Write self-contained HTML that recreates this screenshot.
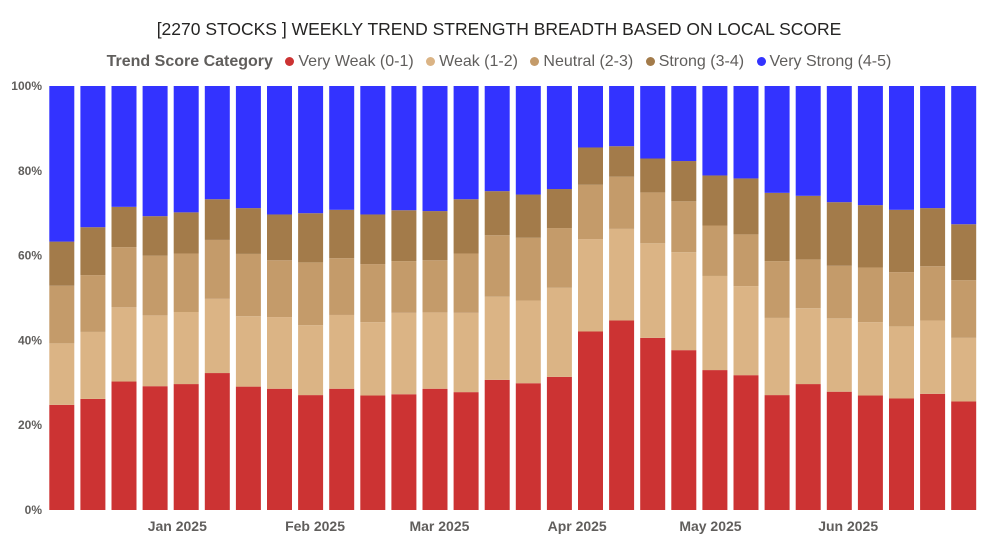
<!DOCTYPE html>
<html><head><meta charset="utf-8"><style>
html,body{margin:0;padding:0;background:#fff;width:998px;height:552px;overflow:hidden;font-family:"Liberation Sans",sans-serif}
#title{position:absolute;left:0;top:19px;width:998px;text-align:center;font-size:17.5px;color:#252423}
#legend{position:absolute;left:0;top:53px;width:998px;text-align:center;font-size:16px;color:#605e5c;white-space:nowrap}
#legend span{display:inline-block;margin:0 4px}
.dot{display:inline-block;width:9px;height:9px;border-radius:50%;margin-right:4px;vertical-align:0}
</style></head><body>
<div id="title">[2270 STOCKS ] WEEKLY TREND STRENGTH BREADTH BASED ON LOCAL SCORE</div>
<div id="legend">
<span style="font-weight:bold">Trend Score Category</span>
<span><i class="dot" style="background:#CC3333"></i>Very Weak (0-1)</span>
<span><i class="dot" style="background:#DBB485"></i>Weak (1-2)</span>
<span><i class="dot" style="background:#C49B6A"></i>Neutral (2-3)</span>
<span><i class="dot" style="background:#A37B4A"></i>Strong (3-4)</span>
<span><i class="dot" style="background:#3333FF"></i>Very Strong (4-5)</span>
</div>
<svg id="chart" width="998" height="552" style="position:absolute;left:0;top:0"></svg>
<script>
const veryWeak=[24.8,26.2,30.3,29.2,29.7,32.3,29.1,28.6,27.1,28.6,27.0,27.3,28.6,27.8,30.7,29.9,31.4,42.1,44.7,40.6,37.7,33.0,31.8,27.1,29.7,27.9,27.0,26.3,27.4,25.6];
const weak=[14.5,15.8,17.5,16.7,17.0,17.5,16.6,16.9,16.5,17.4,17.3,19.2,18.0,18.7,19.6,19.5,21.0,21.8,21.6,22.3,23.1,22.2,21.0,18.2,17.9,17.3,17.3,17.0,17.3,15.0];
const neutral=[13.6,13.4,14.2,14.1,13.8,13.9,14.7,13.4,14.8,13.4,13.7,12.2,12.3,14.0,14.5,14.8,14.1,12.8,12.3,12.0,12.0,11.9,12.2,13.4,11.5,12.4,12.9,12.8,12.8,13.6];
const strong=[10.4,11.3,9.5,9.3,9.7,9.6,10.8,10.8,11.6,11.4,11.7,12.0,11.6,12.8,10.4,10.2,9.2,8.8,7.2,8.0,9.5,11.8,13.2,16.1,15.0,15.0,14.7,14.7,13.7,13.2];
const veryStrong=[36.7,33.3,28.5,30.7,29.8,26.7,28.8,30.3,30.0,29.2,30.3,29.3,29.5,26.7,24.8,25.6,24.3,14.5,14.2,17.1,17.7,21.1,21.8,25.2,25.9,27.4,28.1,29.2,28.8,32.6];
const firstWeek="2024-12-06";
const yTicks=[0,20,40,60,80,100];
const xTickLabels=["Jan 2025","Feb 2025","Mar 2025","Apr 2025","May 2025","Jun 2025"];
const xTickDates=["2025-01-01","2025-02-01","2025-03-01","2025-04-01","2025-05-01","2025-06-01"];

const NS="http://www.w3.org/2000/svg";
const svg=document.getElementById('chart');
const plotLeft=49.3,pitch=31.1,bw=25,plotTop=86,plotBot=510;
const yS=v=>plotBot-(v/100)*(plotBot-plotTop);
const xi=i=>plotLeft+i*pitch;
const t0=new Date(firstWeek).getTime();
const xDate=d=>plotLeft+bw/2+((new Date(d).getTime()-t0)/(7*864e5))*pitch;
function mk(tag,a){const e=document.createElementNS(NS,tag);for(const k in a)e.setAttribute(k,a[k]);svg.appendChild(e);return e;}
yTicks.forEach(t=>{
  const e=mk('text',{x:42,y:yS(t)+4,'text-anchor':'end','font-size':12,'font-weight':'bold',fill:'#605e5c'});
  
  
  e.textContent=t+'%';
});
xTickLabels.forEach((lab,k)=>{
  const e=mk('text',{x:xDate(xTickDates[k]),y:531,'text-anchor':'middle','font-size':14,'font-weight':'bold',fill:'#605e5c'});
  
  
  e.textContent=lab;
});
const series=[[veryWeak,'#CC3333','very-weak'],[weak,'#DBB485','weak'],[neutral,'#C49B6A','neutral'],[strong,'#A37B4A','strong'],[veryStrong,'#3333FF','very-strong']];
for(let i=0;i<veryWeak.length;i++){
  let cum=0;
  series.forEach(s=>{
    const v=s[0][i];
    const r=mk('rect',{x:xi(i),y:yS(cum+v),width:bw,height:yS(cum)-yS(cum+v),fill:s[1]});
    
    
    cum+=v;
  });
}
</script>
</body></html>
